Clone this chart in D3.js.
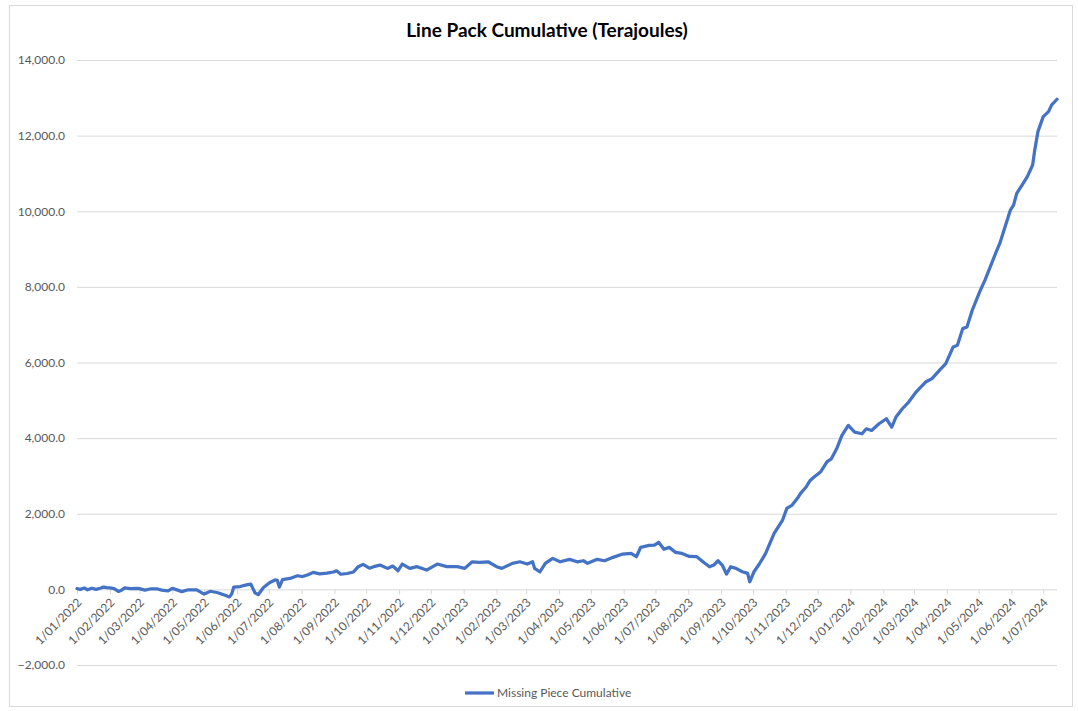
<!DOCTYPE html>
<html>
<head>
<meta charset="utf-8">
<script src="https://cdn.jsdelivr.net/npm/d3@7"></script>
<style>
  body { margin: 0; background: #fff; }
  text { font-family: Lato, "Open Sans", sans-serif; }
</style>
</head>
<body>
<div id="chart"></div>
<script>
// dates and values
var dates = [
  "2022-01-01","2022-01-04","2022-01-08","2022-01-11","2022-01-15","2022-01-19","2022-01-23","2022-01-26","2022-01-29",
  "2022-02-01","2022-02-05","2022-02-09","2022-02-12","2022-02-15","2022-02-20","2022-02-27",
  "2022-03-01","2022-03-06","2022-03-11","2022-03-18","2022-03-22","2022-03-28",
  "2022-04-01","2022-04-04","2022-04-10","2022-04-16","2022-04-24",
  "2022-05-01","2022-05-07","2022-05-14","2022-05-22","2022-05-25","2022-05-27","2022-05-29",
  "2022-06-04","2022-06-10","2022-06-14","2022-06-18","2022-06-21","2022-06-26",
  "2022-07-02","2022-07-07","2022-07-09","2022-07-11","2022-07-14","2022-07-21","2022-07-28",
  "2022-08-02","2022-08-07","2022-08-12","2022-08-18","2022-08-25","2022-08-31",
  "2022-09-03","2022-09-07","2022-09-13","2022-09-19","2022-09-23","2022-09-28",
  "2022-10-04","2022-10-08","2022-10-14","2022-10-21","2022-10-26","2022-10-31",
  "2022-11-04","2022-11-11","2022-11-18","2022-11-27",
  "2022-12-07","2022-12-16","2022-12-26",
  "2023-01-02","2023-01-09","2023-01-16","2023-01-24",
  "2023-02-01","2023-02-06","2023-02-16","2023-02-23",
  "2023-03-02","2023-03-07","2023-03-09","2023-03-14","2023-03-19","2023-03-26",
  "2023-04-02","2023-04-11","2023-04-18","2023-04-24","2023-04-28",
  "2023-05-07","2023-05-14","2023-05-22","2023-05-31",
  "2023-06-08","2023-06-13","2023-06-17","2023-06-25","2023-06-30",
  "2023-07-04","2023-07-09","2023-07-14","2023-07-20","2023-07-26",
  "2023-08-02","2023-08-09","2023-08-16","2023-08-21","2023-08-25","2023-08-29",
  "2023-09-02","2023-09-06","2023-09-10","2023-09-15","2023-09-21","2023-09-26","2023-09-28",
  "2023-10-02","2023-10-07","2023-10-13","2023-10-21","2023-10-29",
  "2023-11-02","2023-11-07","2023-11-12","2023-11-15","2023-11-20","2023-11-24","2023-11-28",
  "2023-12-04","2023-12-10","2023-12-14","2023-12-19","2023-12-24","2023-12-30",
  "2024-01-05","2024-01-12","2024-01-16","2024-01-21","2024-01-28",
  "2024-02-04","2024-02-09","2024-02-13","2024-02-19","2024-02-25",
  "2024-03-03","2024-03-06","2024-03-12","2024-03-18","2024-03-25","2024-03-31",
  "2024-04-07","2024-04-11","2024-04-16","2024-04-20","2024-04-25",
  "2024-05-02","2024-05-07","2024-05-12","2024-05-17","2024-05-21","2024-05-26","2024-05-31",
  "2024-06-03","2024-06-06","2024-06-11","2024-06-16","2024-06-21","2024-06-23","2024-06-26",
  "2024-07-01","2024-07-06","2024-07-09","2024-07-14"
];

var missingPiece = [
  20, 0, 35, -10, 30, 0, 30, 60, 45,
  40, 20, -55, -20, 40, 20, 25,
  20, -20, 10, 10, -20, -40,
  25, 0, -60, -10, -15,
  -125, -50, -90, -170, -200, -120, 60,
  75, 120, 140, -90, -140, 50,
  180, 250, 240, 60, 260, 290, 360,
  340, 385, 450, 410, 430, 460,
  490, 400, 420, 460, 590, 660,
  560, 600, 643, 555, 617, 493,
  670, 555, 600, 510,
  670, 600, 600,
  555, 730, 714, 730,
  600, 555, 688, 730,
  670, 730, 555, 466, 688, 820,
  730, 794, 730, 757, 688,
  794, 757, 847, 934,
  952, 863, 1111, 1164, 1172,
  1244, 1060, 1111, 979, 952,
  870, 863, 704, 598, 643, 757,
  643, 405, 598, 555, 466, 423, 201,
  466, 670, 952, 1482, 1834,
  2143, 2231, 2408, 2540, 2700, 2880, 2980,
  3112, 3377, 3453, 3717, 4071, 4335,
  4159, 4115, 4247, 4203, 4380,
  4512, 4291, 4556, 4777, 4954,
  5219, 5307, 5484, 5572, 5793, 5970,
  6411, 6455, 6896, 6940, 7382,
  7867, 8177, 8530, 8883, 9148, 9589, 10031,
  10163, 10472, 10693, 10914, 11223, 11620, 12106,
  12503, 12636, 12812, 12962
];

var xTicks = [
  "2022-01-01","2022-02-01","2022-03-01","2022-04-01","2022-05-01","2022-06-01",
  "2022-07-01","2022-08-01","2022-09-01","2022-10-01","2022-11-01","2022-12-01",
  "2023-01-01","2023-02-01","2023-03-01","2023-04-01","2023-05-01","2023-06-01",
  "2023-07-01","2023-08-01","2023-09-01","2023-10-01","2023-11-01","2023-12-01",
  "2024-01-01","2024-02-01","2024-03-01","2024-04-01","2024-05-01","2024-06-01",
  "2024-07-01"
];
var yTicks = [-2000, 0, 2000, 4000, 6000, 8000, 10000, 12000, 14000];

var seriesName = "Missing Piece Cumulative";
var title = "Line Pack Cumulative (Terajoules)";

var width = 1078, height = 711;
var parse = d3.timeParse("%Y-%m-%d");

var data = dates.map(function (d, i) {
    return { date: parse(d), value: missingPiece[i] };
});

var svg = d3.select("#chart").append("svg")
    .attr("width", width)
    .attr("height", height);

// chart frame
svg.append("rect")
    .attr("x", 9.5).attr("y", 5.5)
    .attr("width", 1063).attr("height", 701)
    .attr("fill", "#fff")
    .attr("stroke", "#d9d9d9");

var x = d3.scaleTime()
    .domain([parse("2022-01-01"), parse("2024-07-14")])
    .range([77, 1057]);

var y = d3.scaleLinear()
    .domain([-2000, 14000])
    .range([665, 60]);

// horizontal gridlines + y labels
var yAxis = svg.append("g")
    .attr("transform", "translate(77,0)")
    .call(d3.axisLeft(y)
        .tickValues(yTicks)
        .tickSize(-980)
        .tickPadding(12)
        .tickFormat(d3.format(",.1f")));
yAxis.select(".domain").remove();
yAxis.selectAll("line").attr("stroke", "#d9d9d9");
yAxis.selectAll("text")
    .attr("fill", "#595959")
    .style("font-size", "12px");

// x axis along the zero line
var xAxis = svg.append("g")
    .attr("transform", "translate(0," + y(0) + ")")
    .call(d3.axisBottom(x)
        .tickValues(xTicks.map(parse))
        .tickSize(5)
        .tickFormat(d3.timeFormat("%-d/%m/%Y")));
xAxis.select(".domain").remove();
xAxis.selectAll("line").attr("stroke", "#d9d9d9");
xAxis.selectAll("text")
    .attr("x", 0).attr("y", 0).attr("dy", 0)
    .attr("transform", "translate(5,14) rotate(-45)")
    .style("text-anchor", "end")
    .attr("fill", "#595959")
    .style("font-size", "12px");

// the line
var line = d3.line()
    .x(function (d) { return x(d.date); })
    .y(function (d) { return y(d.value); });

svg.append("path")
    .datum(data)
    .attr("fill", "none")
    .attr("stroke", "#4472c4")
    .attr("stroke-width", 3.25)
    .attr("stroke-linejoin", "round")
    .attr("stroke-linecap", "round")
    .attr("d", line);

// title
svg.append("text")
    .attr("x", 547).attr("y", 37)
    .attr("text-anchor", "middle")
    .style("font-size", "19px")
    .style("font-weight", "bold")
    .attr("fill", "#000")
    .text(title);

// legend
svg.append("line")
    .attr("x1", 465).attr("x2", 494)
    .attr("y1", 693).attr("y2", 693)
    .attr("stroke", "#4472c4")
    .attr("stroke-width", 3.25);
svg.append("text")
    .attr("x", 497).attr("y", 697)
    .attr("fill", "#595959")
    .style("font-size", "12px")
    .text(seriesName);
</script>
</body>
</html>
